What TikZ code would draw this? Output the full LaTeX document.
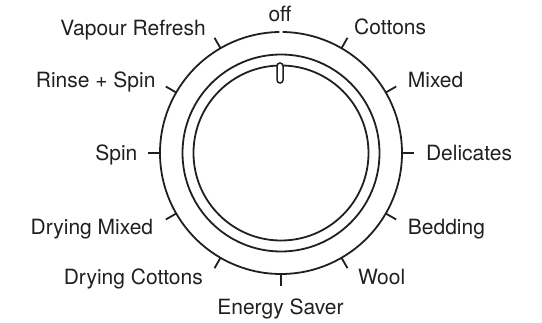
\documentclass[tikz,border=0pt]{standalone}
\usepackage{fontspec}
\setmainfont{TeX Gyre Heros}
\usetikzlibrary{calc}
\definecolor{ink}{HTML}{231F20}
\begin{document}
\begin{tikzpicture}[x=1pt,y=1pt,
  ring/.style={draw=ink,line width=1.8pt},
  tickline/.style={draw=ink,line width=1.8pt},
  pill/.style={draw=ink,line width=1.5pt,fill=white,rounded corners=3pt},
  lbl/.style={inner sep=0pt,text=ink,font=\fontsize{21}{25}\selectfont}]
\useasboundingbox (0,0) rectangle (542,322);
\coordinate (C) at (281,169);
% outer ring with gap at "off"
\draw[ring] ($(C)+(90.8:121)$) arc[start angle=90.8,end angle=449.2,radius=121];
% middle and inner rings
\draw[ring] (C) circle[radius=98.5];
\draw[ring] (C) circle[radius=87.5];
% pointer
\draw[pill] (277,239) rectangle (283,259);
% ticks
\foreach \a in {0,30,60,120,150,180,210,240,270,300,330}{
  \coordinate (tin\a) at ($(C)+(\a:121)$);
  \coordinate (tout\a) at ($(C)+(\a:133)$);
  \draw[tickline] (tin\a) -- (tout\a);
}
% labels
\node[lbl,anchor=base] (off) at (280,300) {off};
\node[lbl,anchor=base east] (vapour) at (206,286) {Vapour Refresh};
\node[lbl,anchor=base west] (cottons) at (354,287) {Cottons};
\node[lbl,anchor=base east] (rinse) at (155.7,234.5) {Rinse + Spin};
\node[lbl,anchor=base west] (mixed) at (407.7,234.5) {Mixed};
\node[lbl,anchor=base east] (spin) at (137.6,161.5) {Spin};
\node[lbl,anchor=base west] (delicates) at (425.8,161.5) {Delicates};
\node[lbl,anchor=base east] (drymixed) at (153.3,88) {Drying Mixed};
\node[lbl,anchor=base west] (bedding) at (407.7,88) {Bedding};
\node[lbl,anchor=base east] (drycottons) at (203,37.5) {Drying Cottons};
\node[lbl,anchor=base west] (wool) at (357.8,37.5) {Wool};
\node[lbl,anchor=base] (energy) at (280.5,7) {Energy Saver};
\end{tikzpicture}
\end{document}
